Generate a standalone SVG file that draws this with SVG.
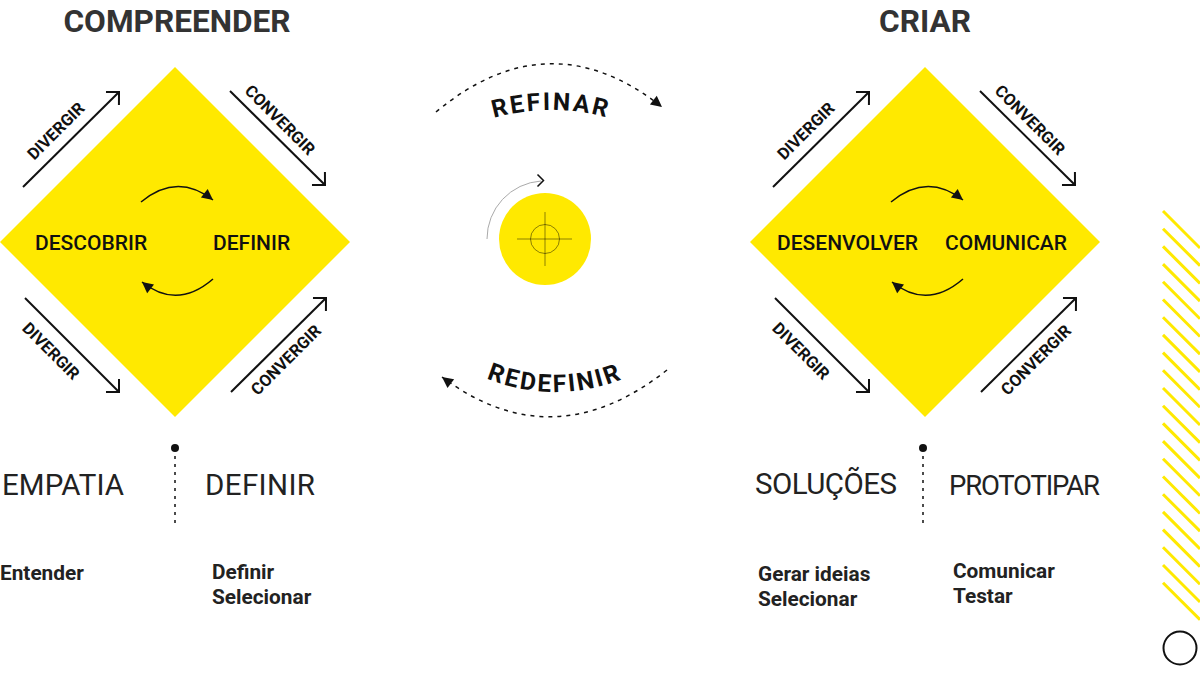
<svg xmlns="http://www.w3.org/2000/svg" width="1200" height="675" viewBox="0 0 1200 675">
<style>
.title{font-family:Roboto,"Liberation Sans",sans-serif;font-weight:700;font-size:31.6px;fill:#333;text-anchor:middle}
.diag{font-family:Roboto,"Liberation Sans",sans-serif;font-weight:700;font-size:16.5px;fill:#111;text-anchor:middle}
.inner{font-family:Roboto,"Liberation Sans",sans-serif;font-weight:500;font-size:21px;fill:#111}
.big{font-family:Roboto,"Liberation Sans",sans-serif;font-weight:400;font-size:29.5px;fill:#222}
.small{font-family:Roboto,"Liberation Sans",sans-serif;font-weight:700;font-size:20.8px;fill:#222}
.curve{font-family:Roboto,"Liberation Sans",sans-serif;font-weight:700;font-size:24.5px;fill:#111;letter-spacing:2.3px}
.arr{stroke:#111;stroke-width:2;fill:none;marker-end:url(#open)}
.loop{stroke:#111;stroke-width:1.5;fill:none;marker-end:url(#tri)}
.dash{stroke:#111;stroke-width:1.5;fill:none;stroke-dasharray:4 5;marker-end:url(#tri)}
.diamond{fill:#FFE900}
.hatch{stroke:#FFE900;stroke-width:3}
</style>
<defs>
<marker id="open" markerUnits="userSpaceOnUse" viewBox="-12 -12 14 24" markerWidth="14" markerHeight="24" refX="0" refY="0" orient="auto">
<path d="M-9.2,-9.2 L0,0 L-9.2,9.2" fill="none" stroke="#111" stroke-width="2"/>
</marker>
<marker id="tri" markerUnits="userSpaceOnUse" viewBox="-12 -6 13 12" markerWidth="13" markerHeight="12" refX="0" refY="0" orient="auto">
<path d="M-11,-5.5 L0,0 L-11,5.5 Z" fill="#111"/>
</marker>
<path id="pRefinar" d="M447.5,137.7 A207,207 0 0 1 654.5,137.7"/>
<path id="pRedefinir" d="M451.7,359.4 A180,180 0 0 0 658.3,359.4"/>
</defs>

<g id="title-compreender"><text class="title" x="177" y="32">COMPREENDER</text></g>
<g id="title-criar"><text class="title" x="925" y="32">CRIAR</text></g>

<g id="diamond-compreender">
<polygon class="diamond" points="175,67 350,242 175,417 0,242"/>
<text class="inner" x="35" y="250">DESCOBRIR</text>
<text class="inner" x="213" y="250">DEFINIR</text>
</g>
<g id="diamond-criar">
<polygon class="diamond" points="925,67 1100,242 925,417 750,242"/>
<text class="inner" x="777" y="250">DESENVOLVER</text>
<text class="inner" x="945" y="250">COMUNICAR</text>
</g>

<g id="labels-compreender">
<text class="diag" transform="translate(60,135) rotate(-45)">DIVERGIR</text>
<text class="diag" transform="translate(276,124) rotate(45)">CONVERGIR</text>
<text class="diag" transform="translate(47,355) rotate(45)">DIVERGIR</text>
<text class="diag" transform="translate(290,364) rotate(-45)">CONVERGIR</text>
</g>
<g id="labels-criar">
<text class="diag" transform="translate(810,135) rotate(-45)">DIVERGIR</text>
<text class="diag" transform="translate(1026,124) rotate(45)">CONVERGIR</text>
<text class="diag" transform="translate(797,355) rotate(45)">DIVERGIR</text>
<text class="diag" transform="translate(1040,364) rotate(-45)">CONVERGIR</text>
</g>

<g id="connectors">
<line class="arr" x1="23" y1="187" x2="119" y2="92"/>
<line class="arr" x1="230" y1="91" x2="325" y2="185"/>
<line class="arr" x1="25" y1="298" x2="119" y2="392"/>
<line class="arr" x1="231" y1="392" x2="326" y2="298"/>
<line class="arr" x1="773" y1="187" x2="869" y2="92"/>
<line class="arr" x1="980" y1="91" x2="1075" y2="185"/>
<line class="arr" x1="775" y1="298" x2="869" y2="392"/>
<line class="arr" x1="981" y1="392" x2="1076" y2="298"/>
<path class="loop" d="M141,202 Q177,172 213,200"/>
<path class="loop" d="M213,279 Q177,310 142,282"/>
<path class="loop" d="M891,202 Q927,172 963,200"/>
<path class="loop" d="M963,279 Q927,310 892,282"/>
<path class="dash" d="M436,112 Q549,18 662,107"/>
<path class="dash" d="M667,370 Q553,460 442,377"/>
</g>

<g id="refinar"><text class="curve"><textPath href="#pRefinar" startOffset="50%" text-anchor="middle">REFINAR</textPath></text></g>
<g id="redefinir"><text class="curve"><textPath href="#pRedefinir" startOffset="50%" text-anchor="middle">REDEFINIR</textPath></text></g>

<g id="center-target">
<circle cx="545" cy="239" r="46" fill="#FFE900"/>
<circle cx="545" cy="239" r="14.5" fill="none" stroke="#000" stroke-opacity="0.45" stroke-width="1"/>
<line x1="517" y1="239" x2="572" y2="239" stroke="#000" stroke-opacity="0.45" stroke-width="1"/>
<line x1="545" y1="212" x2="545" y2="266" stroke="#000" stroke-opacity="0.45" stroke-width="1"/>
<path d="M487,239 A58,58 0 0 1 541,181" fill="none" stroke="#aaa" stroke-width="1"/>
<path d="M537.5,174.5 L543.5,180.5 L537.5,186.5" fill="none" stroke="#111" stroke-width="1.5"/>
</g>

<g id="phase-empatia">
<text class="big" x="2" y="495" textLength="122">EMPATIA</text>
<text class="small" x="0" y="580">Entender</text>
</g>
<g id="phase-definir">
<text class="big" x="205" y="495" textLength="110">DEFINIR</text>
<text class="small" x="212" y="579">Definir</text>
<text class="small" x="212" y="604">Selecionar</text>
</g>
<g id="divider-left">
<circle cx="175" cy="448" r="4" fill="#111"/>
<line x1="175" y1="456" x2="175" y2="528" stroke="#111" stroke-width="1.5" stroke-dasharray="3 5"/>
</g>
<g id="phase-solucoes">
<text class="big" x="755" y="494" textLength="142">SOLUÇÕES</text>
<text class="small" x="758" y="581">Gerar ideias</text>
<text class="small" x="758" y="606">Selecionar</text>
</g>
<g id="phase-prototipar">
<text class="big" x="949" y="495" textLength="151" style="font-size:27.5px">PROTOTIPAR</text>
<text class="small" x="953" y="578">Comunicar</text>
<text class="small" x="953" y="603">Testar</text>
</g>
<g id="divider-right">
<circle cx="923" cy="448" r="4" fill="#111"/>
<line x1="923" y1="456" x2="923" y2="528" stroke="#111" stroke-width="1.5" stroke-dasharray="3 5"/>
</g>

<g id="hatching">
<line class="hatch" x1="1163" y1="211" x2="1200" y2="248"/>
<line class="hatch" x1="1163" y1="228.7" x2="1200" y2="265.7"/>
<line class="hatch" x1="1163" y1="246.4" x2="1200" y2="283.4"/>
<line class="hatch" x1="1163" y1="264.1" x2="1200" y2="301.1"/>
<line class="hatch" x1="1163" y1="281.8" x2="1200" y2="318.8"/>
<line class="hatch" x1="1163" y1="299.5" x2="1200" y2="336.5"/>
<line class="hatch" x1="1163" y1="317.2" x2="1200" y2="354.2"/>
<line class="hatch" x1="1163" y1="334.9" x2="1200" y2="371.9"/>
<line class="hatch" x1="1163" y1="352.6" x2="1200" y2="389.6"/>
<line class="hatch" x1="1163" y1="370.3" x2="1200" y2="407.3"/>
<line class="hatch" x1="1163" y1="388" x2="1200" y2="425"/>
<line class="hatch" x1="1163" y1="405.7" x2="1200" y2="442.7"/>
<line class="hatch" x1="1163" y1="423.4" x2="1200" y2="460.4"/>
<line class="hatch" x1="1163" y1="441.1" x2="1200" y2="478.1"/>
<line class="hatch" x1="1163" y1="458.8" x2="1200" y2="495.8"/>
<line class="hatch" x1="1163" y1="476.5" x2="1200" y2="513.5"/>
<line class="hatch" x1="1163" y1="494.2" x2="1200" y2="531.2"/>
<line class="hatch" x1="1163" y1="511.9" x2="1200" y2="548.9"/>
<line class="hatch" x1="1163" y1="529.6" x2="1200" y2="566.6"/>
<line class="hatch" x1="1163" y1="547.3" x2="1200" y2="584.3"/>
<line class="hatch" x1="1163" y1="565" x2="1200" y2="602"/>
<line class="hatch" x1="1163" y1="582.7" x2="1200" y2="619.7"/>
</g>
<g id="end-circle"><circle cx="1180" cy="648" r="16.5" fill="none" stroke="#111" stroke-width="2"/></g>
</svg>
